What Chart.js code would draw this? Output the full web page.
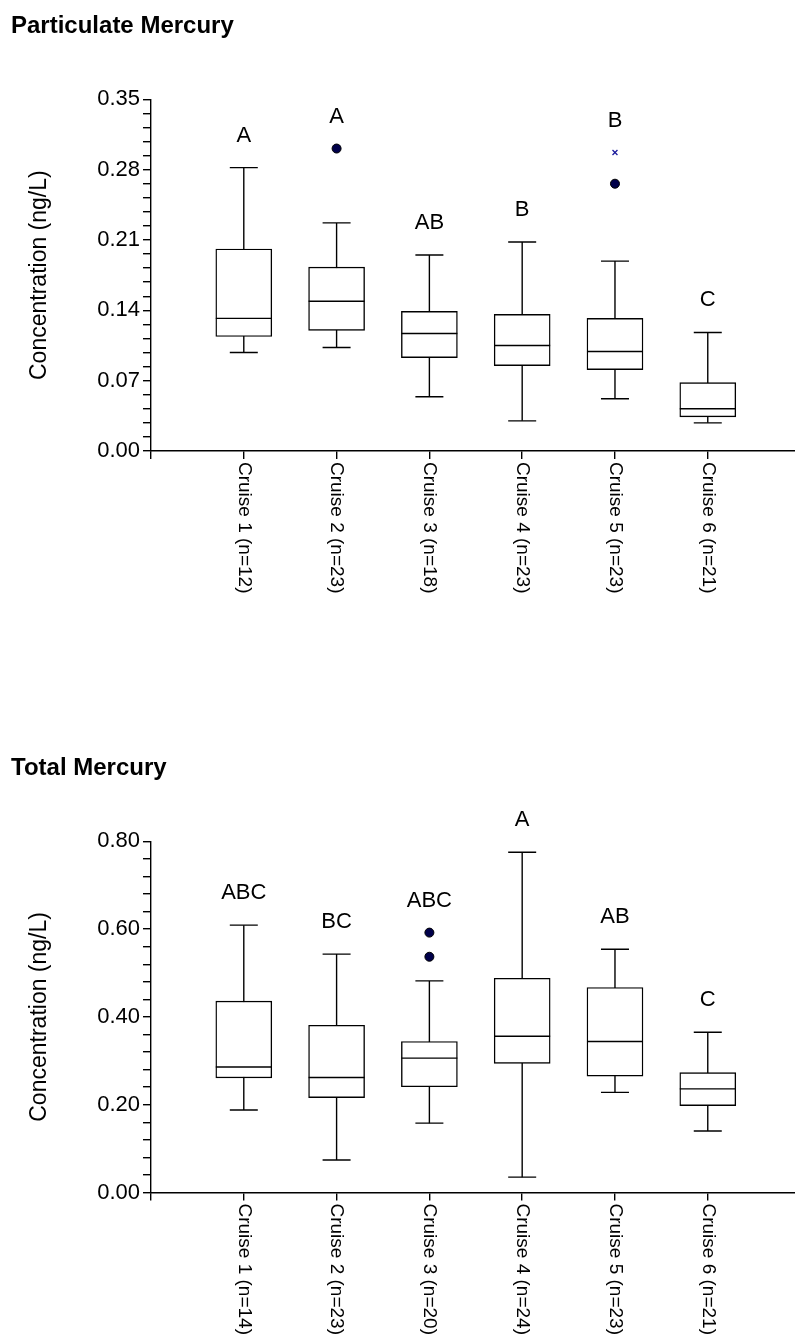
<!DOCTYPE html>
<html>
<head>
<meta charset="utf-8">
<title>Mercury by cruise</title>
<script src="https://cdn.jsdelivr.net/npm/chart.js@4.4.0/dist/chart.umd.min.js"></script>
<style>
  body { margin: 0; background: #fff; }
  .panel { width: 795px; height: 668px; }
  canvas { display: block; }
</style>
</head>
<body>
<div class="panel"><canvas id="partChart" width="795" height="668"></canvas></div>
<div class="panel"><canvas id="totalChart" width="795" height="668"></canvas></div>
<script>
// Particulate Mercury (ng/L)
const partLabels = ['Cruise 1 (n=12)', 'Cruise 2 (n=23)', 'Cruise 3 (n=18)', 'Cruise 4 (n=23)', 'Cruise 5 (n=23)', 'Cruise 6 (n=21)'];
const partMin = [0.098, 0.103, 0.054, 0.030, 0.052, 0.028];
const partQ1 = [0.114, 0.120, 0.093, 0.085, 0.081, 0.034];
const partMed = [0.132, 0.149, 0.117, 0.105, 0.099, 0.042];
const partQ3 = [0.201, 0.183, 0.139, 0.136, 0.132, 0.068];
const partMax = [0.282, 0.227, 0.195, 0.208, 0.189, 0.118];
const partLetters = ['A', 'A', 'AB', 'B', 'B', 'C'];
const partOutliers = [[2, 0.301], [5, 0.266]];   // [cruise, value]
const partFarOut = [[5, 0.297]];
const partTicks = [0, 0.35, 0.07, 0.014];          // min, max, major step, minor step

// Total Mercury (ng/L)
const totLabels = ['Cruise 1 (n=14)', 'Cruise 2 (n=23)', 'Cruise 3 (n=20)', 'Cruise 4 (n=24)', 'Cruise 5 (n=23)', 'Cruise 6 (n=21)'];
const totMin = [0.188, 0.074, 0.158, 0.035, 0.228, 0.140];
const totQ1 = [0.261, 0.216, 0.241, 0.294, 0.265, 0.198];
const totMed = [0.286, 0.262, 0.306, 0.356, 0.344, 0.236];
const totQ3 = [0.436, 0.381, 0.344, 0.488, 0.467, 0.273];
const totMax = [0.609, 0.543, 0.482, 0.775, 0.554, 0.365];
const totLetters = ['ABC', 'BC', 'ABC', 'A', 'AB', 'C'];
const totOutliers = [[3, 0.537], [3, 0.592]];
const totFarOut = [];
const totTicks = [0, 0.80, 0.20, 0.04];

const sans = "'Liberation Sans', Arial, sans-serif";
const ink = '#000';

// draws the rotated cruise labels and the letter groups
const boxText = {
  id: 'boxText',
  afterDatasetsDraw(chart, args, opts) {
    const ctx = chart.ctx;
    const xs = chart.scales.x, ys = chart.scales.y;
    ctx.save();
    ctx.fillStyle = ink;
    // letters above the highest mark of each box
    ctx.font = '22px ' + sans;
    ctx.textAlign = 'center';
    ctx.textBaseline = 'middle';
    opts.letters.forEach((txt, i) => {
      let top = opts.max[i];
      opts.extra.forEach(p => { if (p[0] === i + 1) top = Math.max(top, p[1]); });
      ctx.fillText(txt, xs.getPixelForValue(i + 1), ys.getPixelForValue(top) - 32);
    });
    // category labels, reading top to bottom
    ctx.font = '19px ' + sans;
    ctx.textAlign = 'left';
    opts.labels.forEach((txt, i) => {
      ctx.save();
      ctx.translate(xs.getPixelForValue(i + 1), chart.chartArea.bottom + 11);
      ctx.rotate(Math.PI / 2);
      ctx.fillText(txt, 0, 0);
      ctx.restore();
    });
    ctx.restore();
  }
};

function boxChart(id, title, labels, lo, q1, med, q3, hi, letters, outliers, farOut, ticks, titleTop, axisY) {
  const whiskers = [];
  const caps = [];
  labels.forEach((l, i) => {
    whiskers.push({x: i + 1, y: lo[i]}, {x: i + 1, y: hi[i]}, {x: i + 1, y: null});
    caps.push({x: i + 1, y: lo[i]}, {x: i + 1, y: hi[i]});
  });
  const [yMin, yMax, major, minor] = ticks;
  const canvas = document.getElementById(id);

  return new Chart(canvas, {
    type: 'bar',
    data: {
      datasets: [
        {
          type: 'scatter',
          data: farOut.map(p => ({x: p[0], y: p[1]})),
          pointStyle: 'crossRot',
          radius: 3.5,
          borderColor: '#1a1a9c',
          borderWidth: 1.3,
          order: 0
        },
        {
          type: 'scatter',
          data: outliers.map(p => ({x: p[0], y: p[1]})),
          pointStyle: 'circle',
          radius: 4.5,
          backgroundColor: '#00004a',
          borderColor: '#000',
          borderWidth: 1,
          order: 1
        },
        {
          // medians
          type: 'scatter',
          data: med.map((v, i) => ({x: i + 1, y: v})),
          pointStyle: 'line',
          radius: 28,
          borderColor: ink,
          borderWidth: 1.4,
          order: 2
        },
        {
          // whisker caps
          type: 'scatter',
          data: caps,
          pointStyle: 'line',
          radius: 14,
          borderColor: ink,
          borderWidth: 1.4,
          order: 2
        },
        {
          // boxes q1..q3
          type: 'bar',
          data: q1.map((v, i) => ({x: i + 1, y: [v, q3[i]]})),
          backgroundColor: '#fff',
          borderColor: ink,
          borderWidth: 1.4,
          borderSkipped: false,
          barThickness: 56,
          order: 3
        },
        {
          type: 'line',
          data: whiskers,
          borderColor: ink,
          borderWidth: 1.4,
          pointRadius: 0,
          spanGaps: false,
          order: 4
        }
      ]
    },
    options: {
      responsive: false,
      animation: false,
      layout: { autoPadding: false, padding: { left: 11, top: 0, right: 0, bottom: 0 } },
      scales: {
        x: {
          type: 'linear',
          offset: false,
          min: 0,
          max: 6.94,
          afterBuildTicks: s => { s.ticks = [0, 1, 2, 3, 4, 5, 6].map(v => ({value: v})); },
          afterFit: s => { s.height = canvas.height - axisY; s.paddingLeft = 0; s.paddingRight = 0; },
          ticks: { display: false },
          grid: { offset: false, drawOnChartArea: false, drawTicks: true, tickLength: 8, color: ink, lineWidth: 1.4 },
          border: { display: true, color: ink, width: 1.4 }
        },
        y: {
          min: yMin,
          max: yMax,
          afterFit: s => { s.width = 140; },
          ticks: {
            stepSize: minor,
            autoSkip: false,
            color: ink,
            padding: 3,
            font: { family: sans, size: 22 },
            callback: v => Math.abs(v / major - Math.round(v / major)) < 1e-6 ? v.toFixed(2) : ''
          },
          grid: { drawOnChartArea: false, drawTicks: true, tickLength: 8, color: ink, lineWidth: 1.4 },
          border: { display: true, color: ink, width: 1.4 },
          title: {
            display: true,
            text: 'Concentration (ng/L)',
            color: ink,
            font: { family: sans, size: 23 },
            padding: { top: 15, bottom: 0 }
          }
        }
      },
      plugins: {
        legend: { display: false },
        tooltip: { enabled: false },
        title: {
          display: true,
          text: title,
          align: 'start',
          color: ink,
          font: { family: sans, size: 24, weight: 'bold' },
          padding: { top: titleTop + 1, bottom: 58.5 }
        },
        boxText: { labels: labels, letters: letters, max: hi, extra: outliers.concat(farOut) }
      }
    },
    plugins: [boxText]
  });
}

boxChart('partChart', 'Particulate Mercury', partLabels, partMin, partQ1, partMed, partQ3, partMax,
  partLetters, partOutliers, partFarOut, partTicks, 11, 451);
boxChart('totalChart', 'Total Mercury', totLabels, totMin, totQ1, totMed, totQ3, totMax,
  totLetters, totOutliers, totFarOut, totTicks, 85, 524.5);
</script>
</body>
</html>
